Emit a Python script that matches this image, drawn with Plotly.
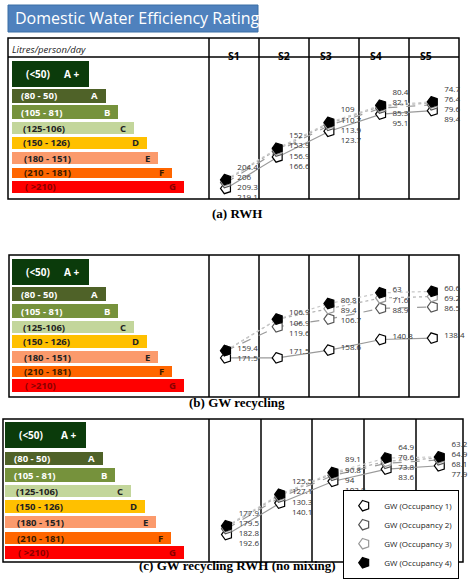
import plotly.graph_objects as go

W, H = 474, 583
stages = ["S1", "S2", "S3", "S4", "S5"]
occ_names = ["GW (Occupancy 1)", "GW (Occupancy 2)", "GW (Occupancy 3)", "GW (Occupancy 4)"]

rating_ranges = ["(<50)", "(80 - 50)", "(105 - 81)", "(125-106)", "(150 - 126)", "(180 - 151)", "(210 - 181)", "( >210)"]
rating_letters = ["A +", "A", "B", "C", "D", "E", "F", "G"]

a_vals = [[219.1, 166.6, 123.7, 95.1, 89.4],
          [209.3, 156.9, 113.9, 85.3, 79.6],
          [206.0, 153.9, 110.7, 82.1, 76.4],
          [204.4, 152.0, 109.0, 80.4, 74.7]]
b_vals = [[171.5, 171.5, 158.6, 140.8, 138.4],
          [159.4, 119.6, 106.7, 88.9, 86.5],
          [159.4, 106.9, 89.4, 71.6, 69.2],
          [159.4, 106.9, 80.8, 63.0, 60.6]]
b_hidden = {(1, 0), (2, 0)}
c_vals = [[192.6, 140.1, 103.8, 83.6, 77.9],
          [182.8, 130.3, 94.0, 73.8, 68.1],
          [179.5, 127.1, 90.8, 70.6, 64.9],
          [177.9, 125.5, 89.1, 64.9, 63.2]]
captions = ["<b>(a) RWH</b>", "<b>(b) GW recycling</b>", "<b>(c) GW recycling RWH (no mixing)</b>"]

px = lambda x: x / W
py = lambda y: 1 - y / H

fig = go.Figure()
shapes, ann = [], []

def rect(x0, y0, x1, y1, fill=None, line="black", lw=1.5, layer="below"):
    shapes.append(dict(type="rect", xref="paper", yref="paper", x0=px(x0), x1=px(x1), y0=py(y1), y1=py(y0),
                       fillcolor=fill or "rgba(0,0,0,0)", line=dict(color=line, width=lw), layer=layer))

def vline(x, y0, y1):
    shapes.append(dict(type="line", xref="paper", yref="paper", x0=px(x), x1=px(x), y0=py(y0), y1=py(y1),
                       line=dict(color="black", width=1.5), layer="below"))

bar_colors = ["#0b3b0b", "#4f6228", "#76923c", "#c3d69b", "#ffc000", "#fb9a6c", "#ff6600", "#ff0000"]
text_colors = ["white", "white", "white", "#222", "#222", "#222", "#3a1a00", "#8a0000"]

panels = [
    dict(bx=(8, 459), by=(38, 199), cols=[209, 259, 309, 359, 409], top=57, barx=12,
         rows=[(61, 87), (89, 103), (105, 119), (122, 134), (137, 149), (152, 164), (168, 178), (181, 193)],
         rights=[89, 106, 118, 134, 147, 158, 172, 184], m1=226, sp=51.7, vals=a_vals, hidden=set()),
    dict(bx=(9, 459), by=(255, 397), cols=[209, 259, 309, 359, 409], top=255, barx=12,
         rows=[(259, 285), (287, 301), (304, 318), (321, 333), (335, 348), (351, 363), (366, 377), (379, 392)],
         rights=[89, 106, 118, 134, 147, 158, 172, 184], m1=226, sp=51.7, vals=b_vals, hidden=b_hidden),
    dict(bx=(3, 463), by=(419, 562), cols=[209, 261, 312, 364, 416], top=419, barx=5,
         rows=[(422, 448), (452, 465), (468, 482), (485, 497), (500, 513), (516, 528), (532, 544), (546, 559)],
         rights=[86, 103, 115, 131, 145, 156, 171, 184], m1=227, sp=53.2, vals=c_vals, hidden=set()),
]
cap_y = [213, 412, 575]
SCALE = 0.6  # px per litre

line_styles = [dict(color="#9a9a9a", width=1.2, dash="solid"),
               dict(color="#9a9a9a", width=1.2, dash="dash"),
               dict(color="#b0b0b0", width=1.2, dash="dot"),
               dict(color="#c8c8c8", width=1.2, dash="dot")]
mk_styles = [dict(color="white", line=dict(color="black", width=1.2)),
             dict(color="white", line=dict(color="#555", width=1.2)),
             dict(color="white", line=dict(color="#999", width=1.2)),
             dict(color="black", line=dict(color="black", width=1.2))]

rect(8, 5, 258, 32, fill="#4f81bd", line="#3a6ea5", lw=1)
ann.append(dict(x=px(13), y=py(18.5), xref="paper", yref="paper", xanchor="left", yanchor="middle", showarrow=False,
                text="Domestic Water Efficiency Rating", font=dict(family="Open Sans", size=16, color="white")))

for k, p in enumerate(panels):
    x0b, x1b = p["bx"]; y0b, y1b = p["by"]
    rect(x0b, y0b, x1b, y1b)
    for c in p["cols"]:
        vline(c, y0b, y1b)
    if k == 0:
        shapes.append(dict(type="line", xref="paper", yref="paper", x0=px(x0b), x1=px(x1b), y0=py(57), y1=py(57),
                           line=dict(color="black", width=1.5), layer="below"))
        ann.append(dict(x=px(10), y=py(50), xref="paper", yref="paper", xanchor="left", yanchor="middle", showarrow=False,
                        text="<i>Litres/person/day</i>", font=dict(family="Open Sans", size=9.5, color="#222")))
        edges = p["cols"] + [x1b]
        for i, s in enumerate(stages):
            ann.append(dict(x=px((edges[i] + edges[i + 1]) / 2), y=py(47), xref="paper", yref="paper", showarrow=False,
                            text="<b>%s</b>" % s, font=dict(family="Open Sans", size=10.5, color="black")))
    for i, (r0, r1) in enumerate(p["rows"]):
        rect(p["barx"], r0, p["rights"][i], r1, fill=bar_colors[i], line=bar_colors[i], lw=0)
        ym = py((r0 + r1) / 2)
        tx = p["barx"] + (12 if i == 0 else 7 + (i >= 3) * 2 + (i >= 5) * 1 + (i == 7) * 1)
        ann.append(dict(x=px(tx), y=ym, xref="paper", yref="paper", xanchor="left", yanchor="middle", showarrow=False,
                        text="<b>%s</b>" % rating_ranges[i], font=dict(family="Open Sans", size=10 if i == 0 else 9.5, color=text_colors[i])))
        ann.append(dict(x=px(p["rights"][i] - (8 if i == 0 else 6)), y=ym, xref="paper", yref="paper", xanchor="right", yanchor="middle",
                        showarrow=False, text="<b>%s</b>" % rating_letters[i],
                        font=dict(family="Open Sans", size=10 if i == 0 else 9.5, color=text_colors[i])))
    ann.append(dict(x=0.5, y=py(cap_y[k]), xref="paper", yref="paper", showarrow=False, text=captions[k],
                    font=dict(family="Liberation Serif", size=13, color="black")))

    sx = "" if k == 0 else str(k + 1)
    dx0, dx1 = p["cols"][0], x1b
    xr = [(dx0 - p["m1"]) / p["sp"] + 1, (dx1 - p["m1"]) / p["sp"] + 1]
    ybot = y1b
    yr = [(ybot - p["top"]) / SCALE, 0]
    fig.layout["xaxis" + sx] = dict(domain=[px(dx0), px(dx1)], range=xr, visible=False, fixedrange=True,
                                    anchor="y" + sx)
    fig.layout["yaxis" + sx] = dict(domain=[py(ybot), py(p["top"])], range=yr, visible=False, fixedrange=True,
                                    anchor="x" + sx)
    xs = list(range(1, 6))
    for o in range(4):
        fig.add_trace(go.Scatter(x=xs, y=p["vals"][o], mode="lines", line=line_styles[o], xaxis="x" + sx, yaxis="y" + sx,
                                 showlegend=False, hoverinfo="skip"))
    for o in range(4):
        fig.add_trace(go.Scatter(x=xs, y=p["vals"][o], mode="markers", xaxis="x" + sx, yaxis="y" + sx,
                                 marker=dict(symbol="pentagon", angle=270, size=11, **mk_styles[o]),
                                 name=occ_names[o], showlegend=(k == 2)))
    lx, ly, lt = [], [], []
    gap = 17
    for j in range(5):
        items = sorted([p["vals"][o][j] for o in range(4) if (o, j) not in p["hidden"]])
        pos = []
        for v in items:
            pos.append(v if not pos else max(v, pos[-1] + gap))
        shift = (sum(items) - sum(pos)) / len(pos)
        pos = [q + shift for q in pos]
        for v, q in zip(items, pos):
            lx.append(j + 1.22); ly.append(q); lt.append(("%g" % v))
    fig.add_trace(go.Scatter(x=lx, y=ly, text=lt, mode="text", textposition="middle right", cliponaxis=False,
                             textfont=dict(family="Open Sans", size=8, color="#333"),
                             xaxis="x" + sx, yaxis="y" + sx, showlegend=False, hoverinfo="skip"))

fig.update_layout(width=W, height=H, margin=dict(l=0, r=0, t=0, b=0), paper_bgcolor="white", plot_bgcolor="rgba(0,0,0,0)",
                  shapes=shapes, annotations=ann,
                  legend=dict(x=px(343), y=py(490), xanchor="left", yanchor="top", bgcolor="white",
                              bordercolor="black", borderwidth=1.2, font=dict(family="Open Sans", size=8, color="#222"),
                              itemwidth=30, tracegroupgap=0))
fig.write_html("out.html", config={"displayModeBar": False},
               post_script="document.body.style.margin='0';document.body.style.overflow='hidden';")
